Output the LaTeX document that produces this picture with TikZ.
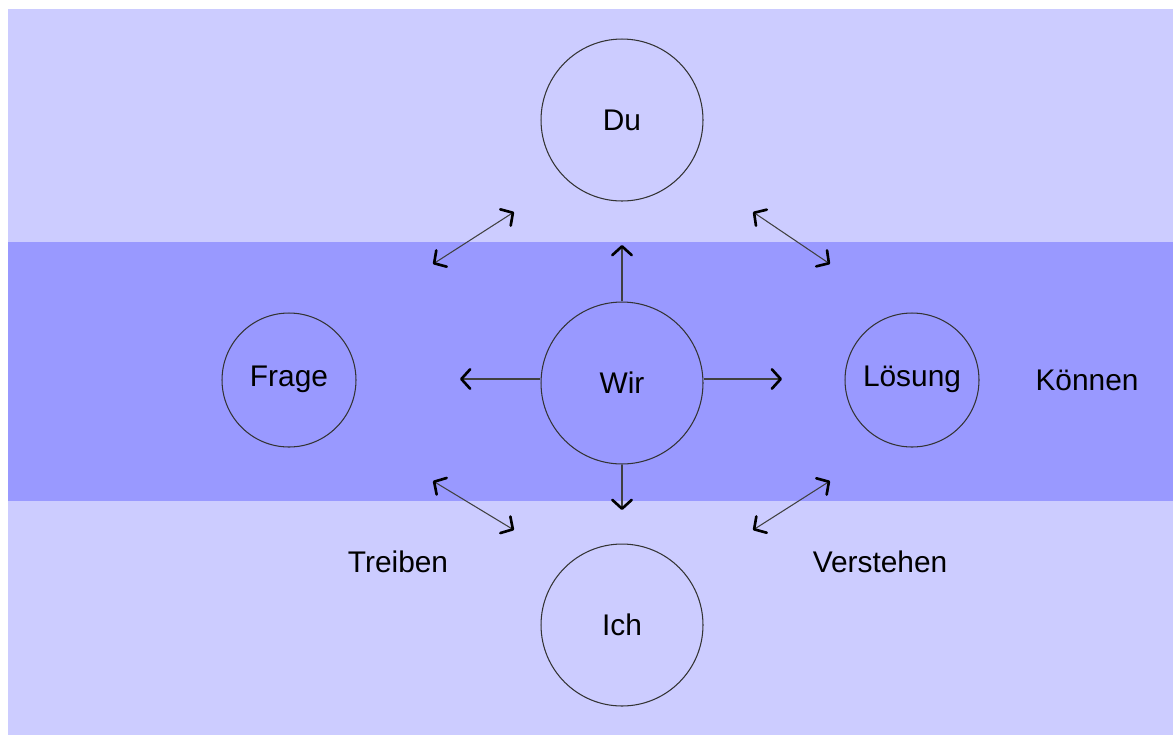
\documentclass[tikz,border=0pt]{standalone}
\usepackage{fontspec}
\setmainfont{Liberation Sans}
\usetikzlibrary{arrows.meta}

\definecolor{pale}{HTML}{CCCCFF}
\definecolor{band}{HTML}{9999FF}
\tikzset{
  role/.style={circle, draw=black!80, line width=0.6pt, inner sep=0pt, minimum size=3.24cm},
  side/.style={circle, draw=black!80, line width=0.6pt, inner sep=0pt, minimum size=2.68cm, text height=0.72em, text depth=0pt},
  label/.style={inner sep=0pt},
  arr/.style={draw=black!75, line width=0.6pt, -{Straight Barb[line width=1.5pt, length=5pt, width=11pt, round, color=black]}},
  darr/.style={draw=black!75, line width=0.6pt, {Straight Barb[line width=1.5pt, length=5pt, width=11pt, round, color=black]}-{Straight Barb[line width=1.5pt, length=5pt, width=11pt, round, color=black]}}
}

\begin{document}
\begin{tikzpicture}[x=0.02cm, y=-0.02cm, font=\fontsize{17}{20}\selectfont]
  \useasboundingbox (0,0) rectangle (1173,735);
  % Background
  \fill[pale] (8,9) rectangle (1173,735);
  \fill[band] (8,242) rectangle (1173,501);
  % Nodes
  \node[role] (du) at (622,120) {Du};
  \node[role] (wir) at (622,383) {Wir};
  \node[role] (ich) at (622,625) {Ich};
  \node[side] (frage) at (289,380) {Frage};
  \node[side] (loesung) at (912,380) {Lösung};
  \node[label] (koennen) at (1087,380) {Können};
  \node[label] (treiben) at (398,562) {Treiben};
  \node[label] (verstehen) at (880,562) {Verstehen};
  % Arrow ends
  \coordinate (up) at (622,245);
  \coordinate (down) at (622,510);
  \coordinate (left) at (460,379);
  \coordinate (right) at (782,379);
  \coordinate (nw1) at (433,264); \coordinate (nw2) at (514,212);
  \coordinate (ne1) at (753,212); \coordinate (ne2) at (830,264);
  \coordinate (sw1) at (433,481); \coordinate (sw2) at (514,530);
  \coordinate (se1) at (753,530); \coordinate (se2) at (830,481);
  % Edges
  \draw[arr] (wir) -- (up);
  \draw[arr] (wir) -- (down);
  \draw[arr] (wir.west |- left) -- (left);
  \draw[arr] (wir.east |- right) -- (right);
  \draw[darr] (nw1) -- (nw2);
  \draw[darr] (ne1) -- (ne2);
  \draw[darr] (sw1) -- (sw2);
  \draw[darr] (se1) -- (se2);
\end{tikzpicture}
\end{document}
